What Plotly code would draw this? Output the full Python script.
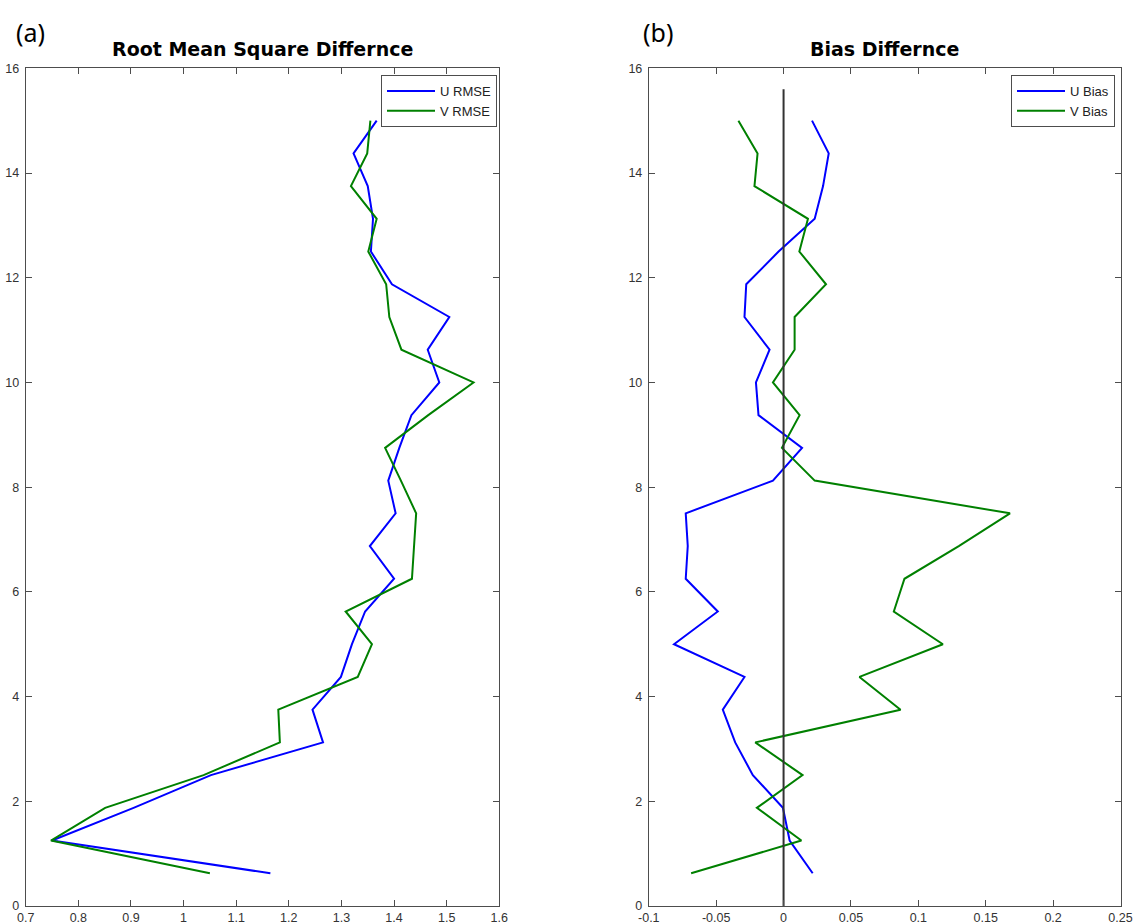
import plotly.graph_objects as go

# Depth levels (bottom to top)
depth = [0.625, 1.25, 1.875, 2.5, 3.125, 3.75, 4.375, 5.0, 5.625, 6.25, 6.875, 7.5,
         8.125, 8.75, 9.375, 10.0, 10.625, 11.25, 11.875, 12.5, 13.125, 13.75, 14.375, 15.0]

u_rmse = [1.165, 0.750, 0.905, 1.052, 1.265, 1.245, 1.299, 1.320, 1.345, 1.400, 1.354, 1.403,
          1.389, 1.410, 1.433, 1.486, 1.464, 1.505, 1.396, 1.356, 1.360, 1.350, 1.323, 1.367]
v_rmse = [1.050, 0.748, 0.851, 1.038, 1.183, 1.180, 1.331, 1.358, 1.308, 1.434, 1.438, 1.442,
          1.413, 1.383, 1.465, 1.551, 1.414, 1.391, 1.385, 1.351, 1.367, 1.318, 1.349, 1.355]

u_bias = [0.0216, 0.0045, -0.0005, -0.0228, -0.0359, -0.0451, -0.0290, -0.0813, -0.0488, -0.0726,
          -0.0711, -0.0726, -0.0079, 0.0137, -0.0186, -0.0205, -0.0104, -0.0290, -0.0277, -0.0037,
          0.0231, 0.0293, 0.0335, 0.0211]
v_bias = [-0.0686, 0.0132, -0.0198, 0.0141, -0.0210, 0.0868, 0.0563, 0.1182, 0.0818, 0.0897,
          0.1300, 0.1680, 0.0231, -0.0012, 0.0119, -0.0079, 0.0082, 0.0082, 0.0315, 0.0117,
          0.0181, -0.0216, -0.0193, -0.0335]

zero_line_x = [0, 0]
zero_line_y = [0, 15.6]

rmse_ticks = [0.7, 0.8, 0.9, 1.0, 1.1, 1.2, 1.3, 1.4, 1.5, 1.6]
rmse_tick_text = ["0.7", "0.8", "0.9", "1", "1.1", "1.2", "1.3", "1.4", "1.5", "1.6"]
bias_ticks = [-0.1, -0.05, 0, 0.05, 0.1, 0.15, 0.2, 0.25]
bias_tick_text = ["-0.1", "-0.05", "0", "0.05", "0.1", "0.15", "0.2", "0.25"]
depth_ticks = [0, 2, 4, 6, 8, 10, 12, 14, 16]

BLUE = "#0000FF"
GREEN = "#008000"
FRAME = "#4d4d4d"
W, H = 1135, 924

fig = go.Figure()
fig.add_trace(go.Scatter(x=u_rmse, y=depth, mode="lines", name="U RMSE",
                         line=dict(color=BLUE, width=2), xaxis="x", yaxis="y", legend="legend"))
fig.add_trace(go.Scatter(x=v_rmse, y=depth, mode="lines", name="V RMSE",
                         line=dict(color=GREEN, width=2), xaxis="x", yaxis="y", legend="legend"))
fig.add_trace(go.Scatter(x=u_bias, y=depth, mode="lines", name="U Bias",
                         line=dict(color=BLUE, width=2), xaxis="x2", yaxis="y2", legend="legend2"))
fig.add_trace(go.Scatter(x=v_bias, y=depth, mode="lines", name="V Bias",
                         line=dict(color=GREEN, width=2), xaxis="x2", yaxis="y2", legend="legend2"))
fig.add_trace(go.Scatter(x=zero_line_x, y=zero_line_y, mode="lines", showlegend=False,
                         line=dict(color="#333333", width=2), xaxis="x2", yaxis="y2"))

tick_font = dict(family="Liberation Sans, Arial, sans-serif", size=12.5, color="#333333")
axis_common = dict(showgrid=False, zeroline=False, showline=True, linecolor=FRAME, linewidth=1,
                   mirror="allticks", ticks="inside", ticklen=6, tickwidth=1, tickcolor=FRAME,
                   tickfont=tick_font, automargin=False)

y_dom = [1 - 906.0 / H, 1 - 68.3 / H]

legend_style = dict(yanchor="top", xanchor="right", bordercolor=FRAME, borderwidth=1,
                    bgcolor="white", itemwidth=48, tracegroupgap=0,
                    font=dict(family="Liberation Sans, Arial, sans-serif", size=13, color="#222222"))

fig.update_layout(
    width=W, height=H,
    margin=dict(l=0, r=0, t=0, b=0),
    paper_bgcolor="white", plot_bgcolor="white",
    xaxis=dict(domain=[25.7 / W, 499.3 / W], range=[0.7, 1.6], tickvals=rmse_ticks,
               ticktext=rmse_tick_text, anchor="y", **axis_common),
    yaxis=dict(domain=y_dom, range=[0, 16], tickvals=depth_ticks, anchor="x",
               ticklabelstandoff=3, **axis_common),
    xaxis2=dict(domain=[648.8 / W, 1120.5 / W], range=[-0.1, 0.25], tickvals=bias_ticks,
                ticktext=bias_tick_text, anchor="y2", **axis_common),
    yaxis2=dict(domain=y_dom, range=[0, 16], tickvals=depth_ticks, anchor="x2",
                ticklabelstandoff=3, **axis_common),
    legend=dict(x=497 / W, y=1 - 75 / H, **legend_style),
    legend2=dict(x=1115 / W, y=1 - 75 / H, **legend_style),
    showlegend=True,
)

title_font = dict(family="DejaVu Sans, sans-serif", size=19, color="black")
label_font = dict(family="Noto Sans, Open Sans, sans-serif", size=25, color="black")
annotations = [
    dict(text="<b>Root Mean Square Differnce</b>", x=262.5 / W, y=1 - 49 / H, font=title_font),
    dict(text="<b>Bias Differnce</b>", x=884.6 / W, y=1 - 49 / H, font=title_font),
    dict(text="(a)", x=30 / W, y=1 - 32 / H, font=label_font),
    dict(text="(b)", x=658 / W, y=1 - 32 / H, font=label_font),
]
for a in annotations:
    fig.add_annotation(xref="paper", yref="paper", showarrow=False,
                       xanchor="center", yanchor="middle", **a)

fig.write_html("out.html")
